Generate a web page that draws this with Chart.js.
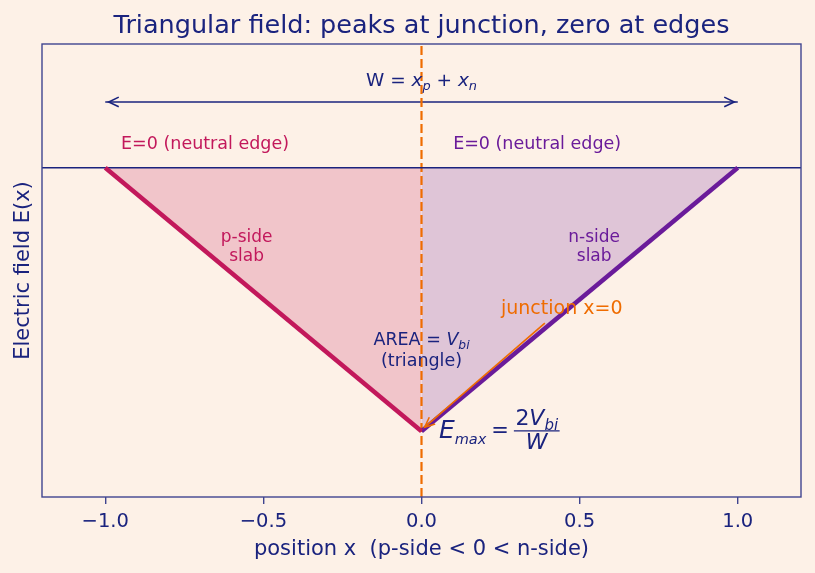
<!DOCTYPE html>
<html>
<head>
<meta charset="utf-8">
<script src="https://cdn.jsdelivr.net/npm/chart.js@4.4.0/dist/chart.umd.min.js"></script>
<style>
  html, body { margin: 0; padding: 0; background: #fdf1e7; }
  #c { display: block; }
</style>
</head>
<body>
<canvas id="c" width="815" height="573"></canvas>
<script>
// --- data ---
const xTicks = [-1.0, -0.5, 0.0, 0.5, 1.0];
const xLimits = [-1.2, 1.2];
const yLimits = [-1.25, 0.47];
const pSideX = [-1.0, 0.0];
const pSideE = [0.0, -1.0];
const nSideX = [0.0, 1.0];
const nSideE = [-1.0, 0.0];
const zeroLineE = 0.0;
const junctionX = 0.0;
const widthArrowX = [-1.0, 1.0];
const widthArrowE = 0.25;
const junctionArrowFrom = [0.39, -0.59];
const junctionArrowTo = [0.01, -0.985];

// --- styling ---
const FONT = '"DejaVu Sans", sans-serif';
const BG = '#fdf1e7';
const INK = '#1a237e';
const FRAME = '#3f4590';
const CRIMSON = '#c2185b';
const PURPLE = '#6a1b9a';
const ORANGE = '#ef6c00';

const pts = (xs, ys) => xs.map((x, i) => ({ x: x, y: ys[i] }));

// text notes, positioned in data coordinates (baseline)
const notes = [
    { parts: [['W = ', ''], ['x', 'i'], ['p', 'is'], [' + ', ''], ['x', 'i'], ['n', 'is']], x: 0, y: 0.31, align: 'center', size: 18.5, color: INK },
    { parts: [['E=0 (neutral edge)', '']], x: -0.95, y: 0.071, align: 'left', size: 17.5, color: CRIMSON },
    { parts: [['E=0 (neutral edge)', '']], x: 0.1, y: 0.071, align: 'left', size: 17.5, color: PURPLE },
    { parts: [['p-side', '']], x: -0.553, y: -0.281, align: 'center', size: 17, color: CRIMSON },
    { parts: [['slab', '']], x: -0.553, y: -0.353, align: 'center', size: 17, color: CRIMSON },
    { parts: [['n-side', '']], x: 0.546, y: -0.281, align: 'center', size: 17, color: PURPLE },
    { parts: [['slab', '']], x: 0.546, y: -0.353, align: 'center', size: 17, color: PURPLE },
    { parts: [['junction x=0', '']], x: 0.2514, y: -0.556, align: 'left', size: 19, color: ORANGE },
    { parts: [['AREA = ', ''], ['V', 'i'], ['bi', 'is']], x: 0, y: -0.673, align: 'center', size: 17.5, color: INK },
    { parts: [['(triangle)', '']], x: 0, y: -0.751, align: 'center', size: 17.5, color: INK }
];

function fontFor(style, size, subScale) {
    const sub = style.indexOf('s') >= 0;
    const it = style.indexOf('i') >= 0;
    return (it ? 'italic ' : '') + (sub ? size * (subScale || 0.7) : size).toFixed(1) + 'px ' + FONT;
}

function richWidth(ctx, parts, size, subScale) {
    let w = 0;
    parts.forEach(([t, s]) => { ctx.font = fontFor(s, size, subScale); w += ctx.measureText(t).width; });
    return w;
}

function drawRich(ctx, parts, x, y, align, size, color, subScale) {
    const w = richWidth(ctx, parts, size, subScale);
    let cx = align === 'center' ? x - w / 2 : x;
    ctx.fillStyle = color;
    ctx.textAlign = 'left';
    ctx.textBaseline = 'alphabetic';
    parts.forEach(([t, s]) => {
        ctx.font = fontFor(s, size, subScale);
        const dy = s.indexOf('s') >= 0 ? size * 0.22 : 0;
        ctx.fillText(t, cx, y + dy);
        cx += ctx.measureText(t).width;
    });
    return cx;
}

function drawHead(ctx, tx, ty, ang, len, half) {
    ctx.beginPath();
    ctx.moveTo(tx - len * Math.cos(ang) + half * Math.sin(ang), ty - len * Math.sin(ang) - half * Math.cos(ang));
    ctx.lineTo(tx, ty);
    ctx.lineTo(tx - len * Math.cos(ang) - half * Math.sin(ang), ty - len * Math.sin(ang) + half * Math.cos(ang));
    ctx.stroke();
}

const decorPlugin = {
    id: 'decor',
    beforeDraw(chart) {
        const ctx = chart.ctx;
        ctx.save();
        ctx.fillStyle = BG;
        ctx.fillRect(0, 0, chart.width, chart.height);
        ctx.restore();
    },
    afterDatasetsDraw(chart) {
        const ctx = chart.ctx;
        const xs = chart.scales.x, ys = chart.scales.y;
        const area = chart.chartArea;
        ctx.save();

        // width arrow heads (<->), shrunk a little like matplotlib
        const ay = ys.getPixelForValue(widthArrowE);
        const ax0 = xs.getPixelForValue(widthArrowX[0]) + 3.5;
        const ax1 = xs.getPixelForValue(widthArrowX[1]) - 3.5;
        ctx.strokeStyle = INK;
        ctx.lineWidth = 1.6;
        drawHead(ctx, ax1, ay, 0, 10, 4.8);
        drawHead(ctx, ax0, ay, Math.PI, 10, 4.8);

        // junction annotation arrow
        const jx0 = xs.getPixelForValue(junctionArrowFrom[0]), jy0 = ys.getPixelForValue(junctionArrowFrom[1]);
        const jx1 = xs.getPixelForValue(junctionArrowTo[0]), jy1 = ys.getPixelForValue(junctionArrowTo[1]);
        ctx.strokeStyle = ORANGE;
        ctx.lineWidth = 1.6;
        ctx.beginPath();
        ctx.moveTo(jx0, jy0);
        ctx.lineTo(jx1, jy1);
        ctx.stroke();
        drawHead(ctx, jx1, jy1, Math.atan2(jy1 - jy0, jx1 - jx0), 10, 4.5);

        // notes
        notes.forEach(n => {
            drawRich(ctx, n.parts, xs.getPixelForValue(n.x), ys.getPixelForValue(n.y), n.align, n.size, n.color);
        });

        // E_max = 2 V_bi / W
        const ex = xs.getPixelForValue(0.055), eb = ys.getPixelForValue(-1.027);
        let cx = drawRich(ctx, [['E', 'i'], ['max', 'is']], ex, eb, 'left', 25, INK, 0.58);
        cx += 5;
        ctx.font = '21px ' + FONT;
        ctx.fillText('=', cx, eb - 1);
        cx += ctx.measureText('=').width + 5;
        const numParts = [['2', ''], ['V', 'i'], ['bi', 'is']];
        const numW = richWidth(ctx, numParts, 22, 0.68);
        ctx.font = 'italic 22px ' + FONT;
        const denW = ctx.measureText('W').width;
        const fw = Math.max(numW, denW) + 3;
        const barY = eb - 7.3;
        drawRich(ctx, numParts, cx + fw / 2, eb - 13.3, 'center', 22, INK, 0.68);
        drawRich(ctx, [['W', 'i']], cx + fw / 2, eb + 11, 'center', 22, INK);
        ctx.strokeStyle = INK;
        ctx.lineWidth = 1.3;
        ctx.beginPath();
        ctx.moveTo(cx, barY);
        ctx.lineTo(cx + fw, barY);
        ctx.stroke();

        // frame
        ctx.strokeStyle = FRAME;
        ctx.lineWidth = 1.4;
        ctx.strokeRect(area.left, area.top, area.right - area.left, area.bottom - area.top);
        ctx.restore();
    },
    afterDraw(chart) {
        const ctx = chart.ctx;
        const area = chart.chartArea;
        const midX = (area.left + area.right) / 2;
        const midY = (area.top + area.bottom) / 2;
        ctx.save();
        ctx.fillStyle = INK;
        ctx.textAlign = 'center';
        ctx.textBaseline = 'alphabetic';
        ctx.font = '25.5px ' + FONT;
        ctx.fillText('Triangular field: peaks at junction, zero at edges', midX, 33);
        ctx.font = '21px ' + FONT;
        ctx.fillText('position x  (p-side < 0 < n-side)', midX, 555);
        ctx.translate(29.3, midY);
        ctx.rotate(-Math.PI / 2);
        ctx.fillText('Electric field E(x)', 0, 0);
        ctx.restore();
    }
};

new Chart(document.getElementById('c'), {
    type: 'scatter',
    data: {
        datasets: [
            {
                label: 'p-side',
                data: pts(pSideX, pSideE),
                showLine: true,
                borderColor: CRIMSON,
                borderWidth: 4.5,
                backgroundColor: 'rgba(194, 24, 91, 0.2)',
                fill: { value: 0 },
                pointRadius: 0
            },
            {
                label: 'n-side',
                data: pts(nSideX, nSideE),
                showLine: true,
                borderColor: PURPLE,
                borderWidth: 4.5,
                backgroundColor: 'rgba(106, 27, 154, 0.2)',
                fill: { value: 0 },
                pointRadius: 0
            },
            {
                label: 'E=0',
                data: pts(xLimits, [zeroLineE, zeroLineE]),
                showLine: true,
                borderColor: INK,
                borderWidth: 1.6,
                pointRadius: 0,
                fill: false
            },
            {
                label: 'junction',
                data: pts([junctionX, junctionX], yLimits),
                showLine: true,
                borderColor: ORANGE,
                borderWidth: 2.2,
                borderDash: [9, 4],
                pointRadius: 0,
                fill: false
            },
            {
                label: 'W',
                data: pts(widthArrowX, [widthArrowE, widthArrowE]),
                showLine: true,
                borderColor: INK,
                borderWidth: 1.6,
                pointRadius: 0,
                fill: false
            }
        ]
    },
    options: {
        responsive: false,
        devicePixelRatio: 1,
        animation: false,
        layout: { padding: { top: 44, right: 14, left: 42, bottom: 0 } },
        scales: {
            x: {
                type: 'linear',
                min: xLimits[0],
                max: xLimits[1],
                afterBuildTicks: axis => { axis.ticks = xTicks.map(v => ({ value: v })); },
                afterFit: scale => { scale.height = 76; },
                grid: { drawOnChartArea: false, drawTicks: true, tickLength: 7, color: FRAME, lineWidth: 1.4 },
                border: { display: false },
                ticks: {
                    color: INK,
                    font: { family: FONT, size: 19.5 },
                    padding: 6,
                    maxRotation: 0,
                    callback: v => (v < 0 ? '\u2212' : '') + Math.abs(v).toFixed(1)
                }
            },
            y: {
                type: 'linear',
                display: false,
                min: yLimits[0],
                max: yLimits[1]
            }
        },
        plugins: {
            legend: { display: false },
            tooltip: { enabled: false },
            filler: { drawTime: 'beforeDatasetsDraw' }
        }
    },
    plugins: [decorPlugin]
});
</script>
</body>
</html>
